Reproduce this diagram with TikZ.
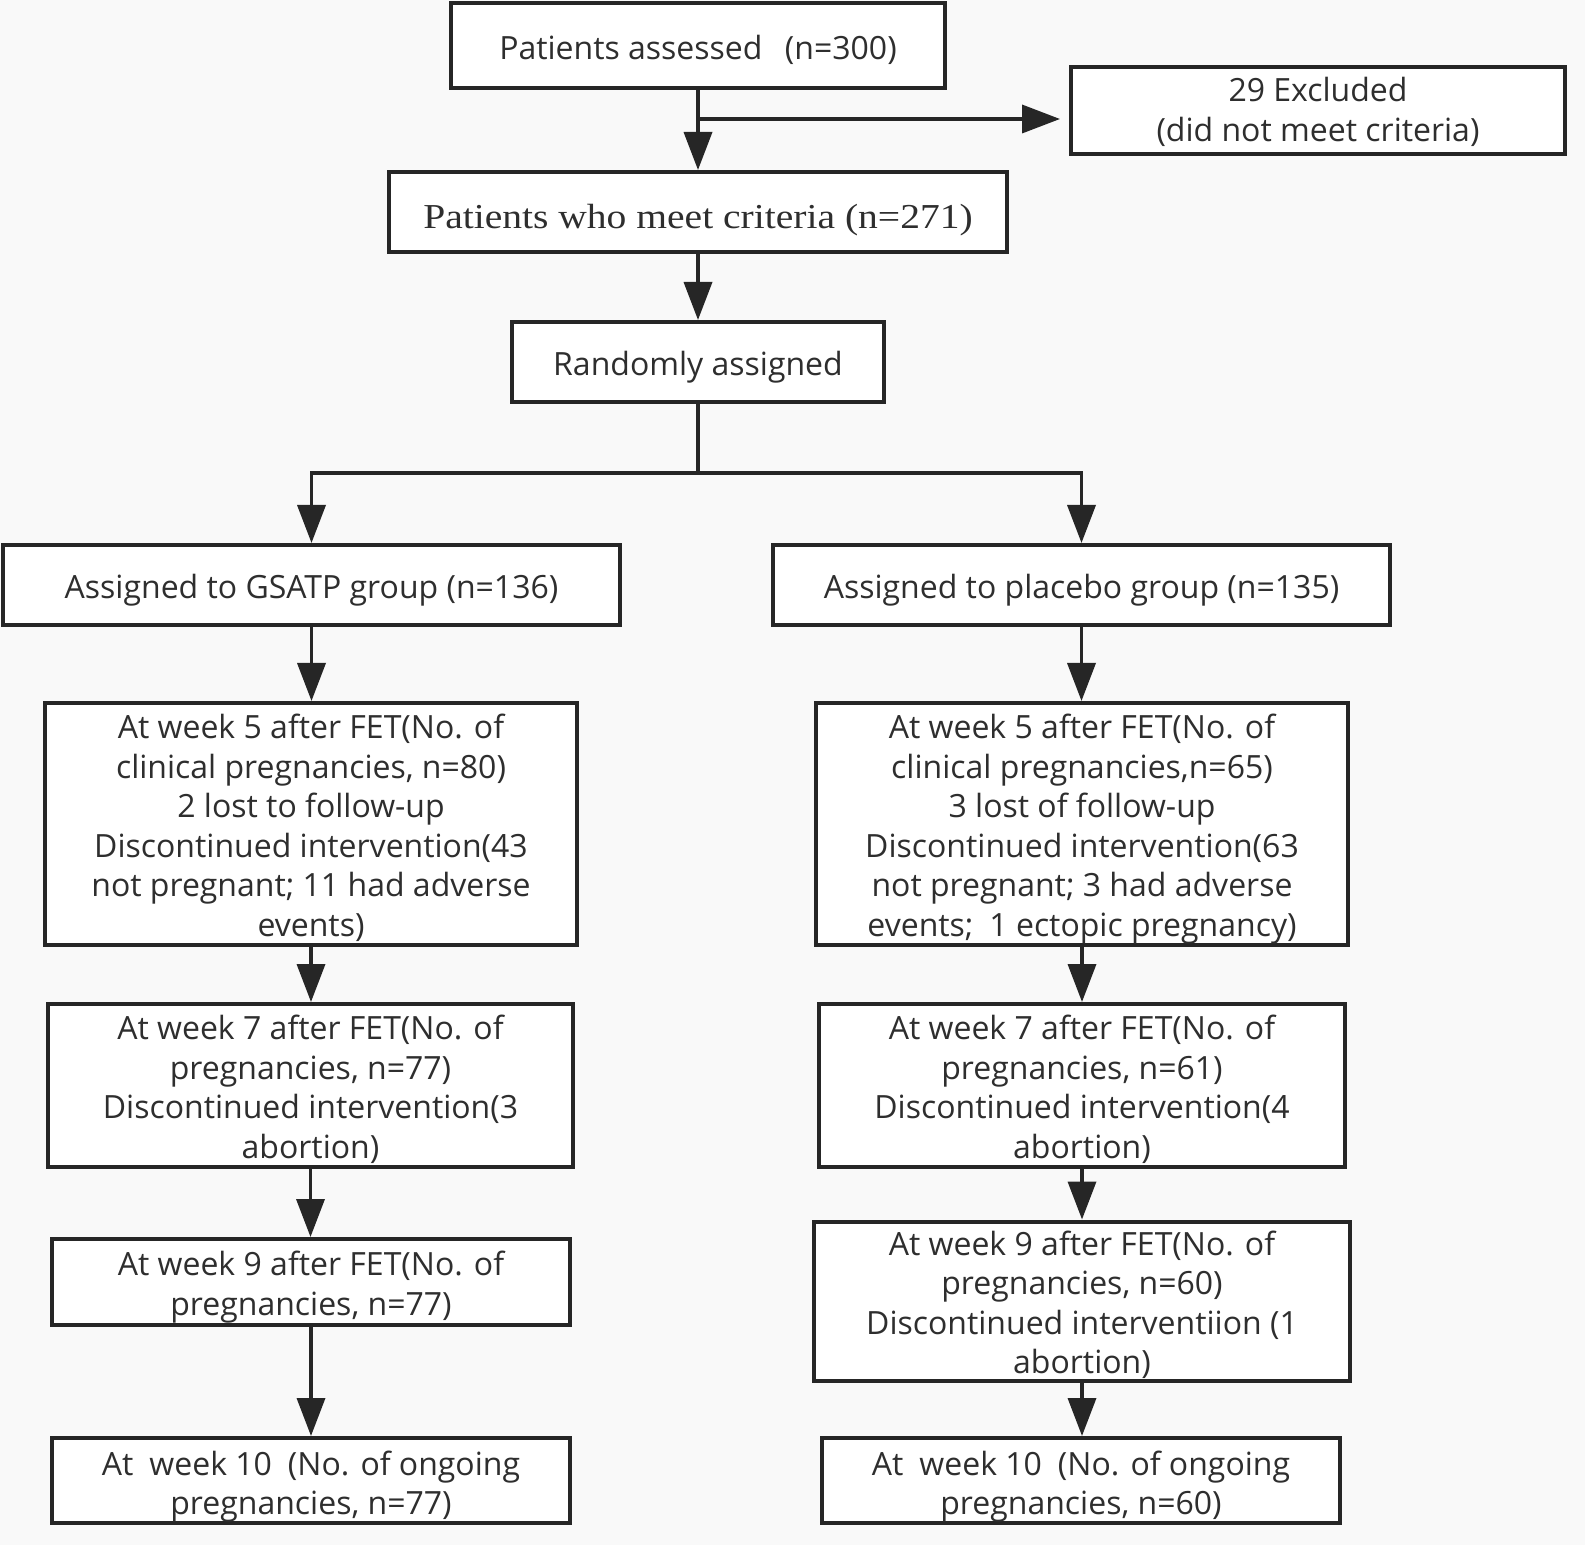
\documentclass[tikz,border=0pt]{standalone}
\usepackage{fontspec}
\setmainfont{Open Sans}
\newfontfamily\seriffont{Liberation Serif}[FakeStretch=1.13]
\usetikzlibrary{arrows.meta}
\newcommand\lowt[2][2.8pt]{\raisebox{-#1}[\height][\depth]{\begin{tabular}{@{}c@{}}#2\end{tabular}}}
\begin{document}
\begin{tikzpicture}[x=0.5pt,y=-0.5pt,
  box/.style={draw=black!85, line width=2pt, fill=white, inner sep=0pt, align=center,
    font=\fontsize{16}{19.8}\selectfont, text=black!82},
  arr/.style={-{Triangle[length=19pt,width=14pt]}, line width=1.8pt, draw=black!85},
  ln/.style={line width=1.8pt, draw=black!85}]
\fill[gray!5] (0,0) rectangle (1585,1545);
\useasboundingbox (0,0) rectangle (1585,1545);

\node[box, minimum width=247pt, minimum height=42.5pt] (assess) at (698,45.5) {\lowt{Patients assessed\hspace{0.7em}(n=300)}};
\node[box, minimum width=247pt, minimum height=43.5pt] (excl) at (1318,110.5) {\lowt[1.5pt]{29 Excluded\\(did not meet criteria)}};
\node[box, minimum width=309pt, minimum height=40pt, font=\seriffont\fontsize{17.5}{20}\selectfont] (meet) at (698,212) {\lowt[4.5pt]{Patients who meet criteria (n=271)}};
\node[box, minimum width=186pt, minimum height=40pt] (rand) at (698,362) {\lowt{Randomly assigned}};

\node[box, minimum width=308.5pt, minimum height=40pt] (gsatp) at (311.5,585) {\lowt{Assigned to GSATP group (n=136)}};
\node[box, minimum width=308.5pt, minimum height=40pt] (plac) at (1081.5,585) {\lowt{Assigned to placebo group (n=135)}};

\node[box, minimum width=266pt, minimum height=121pt] (l5) at (311,824) {\lowt{At week 5 after FET(No. of\\clinical pregnancies, n=80)\\2 lost to follow-up\\Discontinued intervention(43\\not pregnant; 11 had adverse\\events)}};
\node[box, minimum width=266pt, minimum height=121pt] (r5) at (1082,824) {\lowt{At week 5 after FET(No. of\\clinical pregnancies,n=65)\\3 lost of follow-up\\Discontinued intervention(63\\not pregnant; 3 had adverse\\events;\hspace{0.5em}1 ectopic pregnancy)}};

\node[box, minimum width=262.5pt, minimum height=81.5pt] (l7) at (310.5,1085.5) {\lowt{At week 7 after FET(No. of\\pregnancies, n=77)\\Discontinued intervention(3\\abortion)}};
\node[box, minimum width=263pt, minimum height=81.5pt] (r7) at (1082,1085.5) {\lowt{At week 7 after FET(No. of\\pregnancies, n=61)\\Discontinued intervention(4\\abortion)}};

\node[box, minimum width=259pt, minimum height=43pt] (l9) at (311,1282) {\lowt{At week 9 after FET(No. of\\pregnancies, n=77)}};
\node[box, minimum width=268pt, minimum height=79.5pt] (r9) at (1082,1301) {\lowt{At week 9 after FET(No. of\\pregnancies, n=60)\\Discontinued interventiion (1\\abortion)}};

\node[box, minimum width=259pt, minimum height=42.5pt] (l10) at (311,1480.5) {\lowt[3.2pt]{At\hspace{0.5em}week 10\hspace{0.5em}(No. of ongoing\\pregnancies, n=77)}};
\node[box, minimum width=259pt, minimum height=42.5pt] (r10) at (1081,1480.5) {\lowt[3.2pt]{At\hspace{0.5em}week 10\hspace{0.5em}(No. of ongoing\\pregnancies, n=60)}};

% top connectors
\coordinate (br1) at (698,119);
\draw[arr] (assess.south) -- (meet.north);
\draw[arr, shorten >=4.5pt] (br1) -- (br1 -| excl.west);
\draw[arr] (meet.south) -- (rand.north);

% split
\coordinate (sp) at (698,473);
\draw[ln] (rand.south) -- (sp);
\draw[arr] (sp) -| (gsatp.north);
\draw[arr] (sp) -| (plac.north);

% left column
\draw[arr] (gsatp.south) -- (l5.north -| gsatp.south);
\draw[arr] (l5.south) -- (l7.north -| l5.south);
\draw[arr] (l7.south) -- (l9.north -| l7.south);
\draw[arr] (l9.south) -- (l10.north -| l9.south);

% right column
\draw[arr] (plac.south) -- (r5.north -| plac.south);
\draw[arr] (r5.south) -- (r7.north -| r5.south);
\draw[arr] (r7.south) -- (r9.north -| r7.south);
\draw[arr] (r9.south) -- (r10.north -| r9.south);
\end{tikzpicture}
\end{document}
